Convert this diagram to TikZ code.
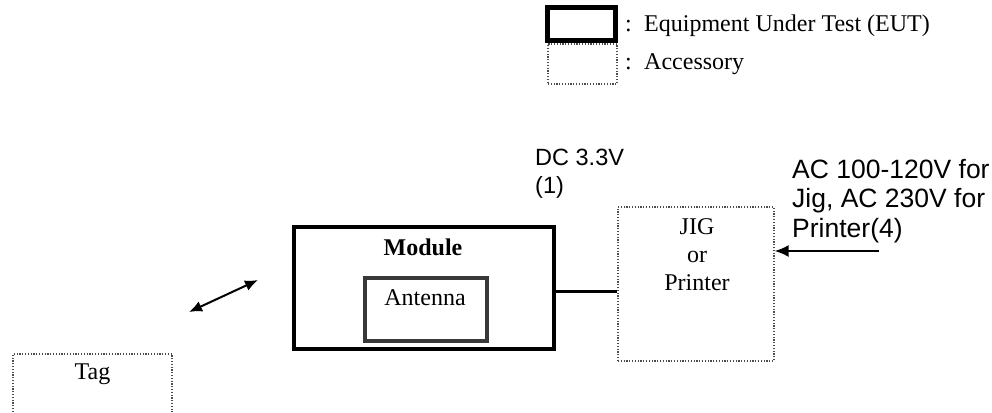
\documentclass[tikz,border=0pt]{standalone}
\usepackage{fontspec}
\setmainfont{Liberation Serif}
\newfontfamily\arialf{Liberation Sans}
\usetikzlibrary{arrows.meta}
\definecolor{dotgray}{rgb}{0.30,0.30,0.30}
\definecolor{antgray}{rgb}{0.22,0.22,0.22}
\tikzset{
  eutbox/.style={draw=black, line width=4pt, minimum width=#1, inner sep=0pt},
  accbox/.style={draw=dotgray, line width=1.2pt, dash pattern=on 1.2pt off 1.6pt, inner sep=0pt},
  serif/.style={font=\fontsize{24}{28}\selectfont, inner sep=0pt},
  sans/.style={font=\arialf\fontsize{23.5}{28}\selectfont, inner sep=0pt, align=left},
  sansbig/.style={font=\arialf\fontsize{26.5}{29.5}\selectfont, inner sep=0pt, align=left},
  wire/.style={line width=3pt},
  sig/.style={line width=2pt},
}
\begin{document}
\begin{tikzpicture}[x=1pt,y=-1pt]
\useasboundingbox (0,0) rectangle (992,412);
% legend
\node[draw=black, line width=5pt, minimum width=68pt, minimum height=33pt, inner sep=0pt] (legeut) at (581.5,24) {};
\node[accbox, minimum width=69pt, minimum height=40pt] (legacc) at (582.5,64) {};
\node[serif, anchor=base west] (c1) at (625,32) {:};
\node[serif, anchor=base west] (t1) at (644,32) {Equipment Under Test (EUT)};
\node[serif, anchor=base west] (c2) at (625,69) {:};
\node[serif, anchor=base west] (t2) at (644,69) {Accessory};
% module
\node[eutbox=260pt, minimum height=122pt] (mod) at (424,288) {};
\node[serif, anchor=base, font=\bfseries\fontsize{24}{28}\selectfont] (modt) at (423,255) {Module};
\node[draw=antgray, line width=4pt, minimum width=122pt, minimum height=63pt, inner sep=0pt] (ant) at (426,309.5) {};
\node[serif, anchor=base] (antt) at (425,305) {Antenna};
% jig
\node[accbox, minimum width=156pt, minimum height=154pt] (jig) at (696,284) {};
\node[serif, anchor=base] (jig1) at (697,234) {JIG};
\node[serif, anchor=base] (jig2) at (697,262) {or};
\node[serif, anchor=base] (jig3) at (697,290) {Printer};
\draw[wire] ([yshift=-3pt]mod.east) -- ([yshift=-3pt]mod.east -| jig.west);
% dc text (base anchor = last line)
\node[sans, anchor=base west] (dc) at (535,193) {DC 3.3V\\(1)};
% ac text
\node[sansbig, anchor=base west] (ac) at (792,237) {AC 100-120V for\\Jig, AC 230V for\\Printer(4)};
\coordinate (acsrc) at (879,251);
\draw[sig, -{Latex[length=14pt,width=12pt]}] (acsrc) -- (acsrc -| jig.east);
% tag
\coordinate (tagbl) at (13,412);
\coordinate (tagtl) at (13,354);
\coordinate (tagtr) at (172,354);
\coordinate (tagbr) at (172,412);
\draw[draw=dotgray, line width=1.2pt, dash pattern=on 1.2pt off 1.6pt] (tagbl) -- (tagtl) -- (tagtr) -- (tagbr);
\node[serif, anchor=base] (tagt) at (92.5,379) {Tag};
% wireless link
\coordinate (lnka) at (189,312);
\coordinate (lnkb) at (258,280);
\draw[sig, {Latex[length=13pt,width=11pt]}-{Latex[length=13pt,width=11pt]}] (lnka) -- (lnkb);
\end{tikzpicture}
\end{document}
